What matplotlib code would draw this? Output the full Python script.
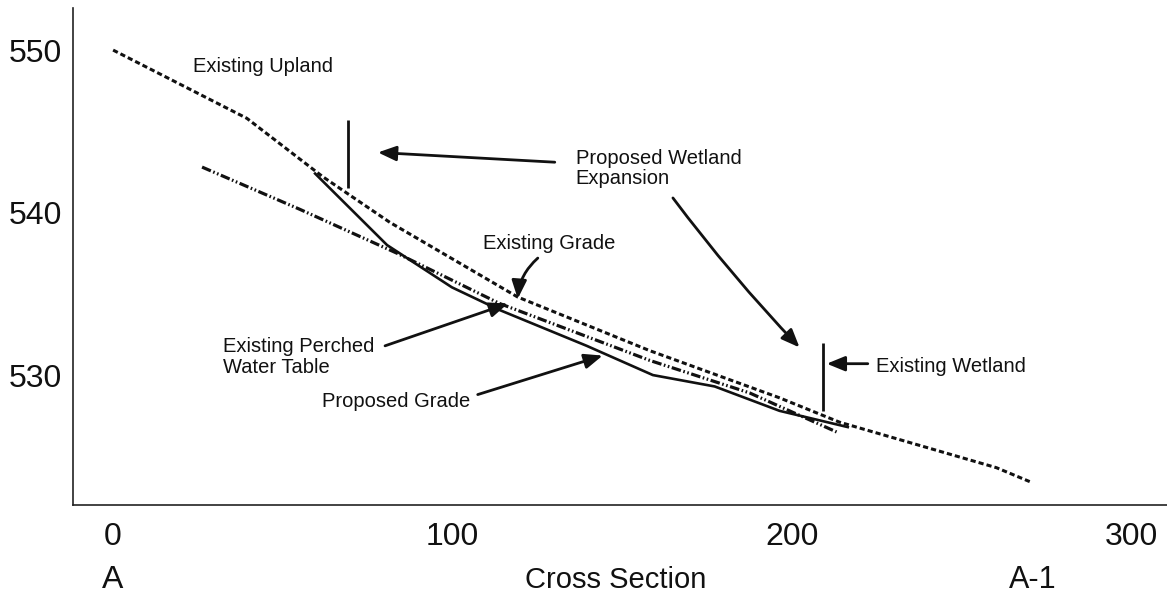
import matplotlib
matplotlib.use("Agg")
import matplotlib.pyplot as plt
from matplotlib.transforms import blended_transform_factory

plt.rcParams['font.family'] = ['Liberation Sans', 'DejaVu Sans']

# ---- data (distance along cross section, elevation) ----
upland_x = [0, 39.4, 61.8, 81.5, 119.2, 158.1, 196.3, 214.0, 260.2, 270.5]
upland_y = [550.0, 545.8, 542.2, 539.4, 534.8, 531.5, 528.6, 527.1, 524.3, 523.4]

proposed_x = [59.5, 80.7, 99.8, 113.9, 139.5, 159.0, 177.2, 196.3, 216.4]
proposed_y = [542.4, 538.0, 535.4, 534.0, 531.8, 530.0, 529.3, 527.8, 526.8]

perched_x = [26.2, 55.0, 83.6, 113.9, 158.1, 187.5, 213.1]
perched_y = [542.8, 540.2, 537.5, 534.4, 530.9, 528.9, 526.5]

expansion_marker_x = 69.2
expansion_marker_y = (541.5, 545.7)
wetland_marker_x = 209.0
wetland_marker_y = (527.8, 532.0)

x_ticks = [0, 100, 200, 300]
y_ticks = [530, 540, 550]

ink = '#111111'

fig = plt.figure(figsize=(11.67, 6.02), dpi=100)
ax = fig.add_axes([0.0626, 0.161, 0.937, 0.826])
ax.set_xlim(-11.8, 310.3)
ax.set_ylim(522.0, 552.6)

ax.plot(upland_x, upland_y, color=ink, lw=2.2, linestyle=(0, (1.7, 1.0)))
ax.plot(proposed_x, proposed_y, color=ink, lw=1.9, linestyle='-')
ax.plot(perched_x, perched_y, color=ink, lw=2.3,
        linestyle=(0, (3.0, 0.8, 0.5, 0.8, 0.5, 0.8)))

ax.vlines(expansion_marker_x, *expansion_marker_y, color=ink, lw=2.0)
ax.vlines(wetland_marker_x, *wetland_marker_y, color=ink, lw=2.0)

for s in ['top', 'right']:
    ax.spines[s].set_visible(False)
for s in ['left', 'bottom']:
    ax.spines[s].set_color('#222222')
    ax.spines[s].set_linewidth(1.2)

ax.set_xticks(x_ticks)
ax.set_xticklabels([str(v) for v in x_ticks])
ax.set_yticks(y_ticks)
ax.set_yticklabels([str(v) for v in y_ticks])
ax.tick_params(axis='x', length=0, pad=12, labelsize=23, colors=ink)
ax.tick_params(axis='y', length=0, pad=8, labelsize=23, colors=ink)

# bottom labels
tr = blended_transform_factory(ax.transData, ax.transAxes)
ax.text(0, -0.151, 'A', transform=tr, ha='center', va='center', fontsize=23, color=ink)
ax.text(148, -0.151, 'Cross Section', transform=tr, ha='center', va='center', fontsize=21, color=ink)
ax.text(271, -0.151, 'A-1', transform=tr, ha='center', va='center', fontsize=22, color=ink)

fs = 14.5
# annotations
ax.text(23.6, 549.0, 'Existing Upland', fontsize=fs, ha='left', va='center', color=ink)
ax.text(136.3, 542.7, 'Proposed Wetland\nExpansion', fontsize=fs, ha='left', va='center',
        linespacing=1.1, color=ink)
ax.text(108.9, 538.1, 'Existing Grade', fontsize=fs, ha='left', va='center', color=ink)
ax.text(32.4, 531.1, 'Existing Perched\nWater Table', fontsize=fs, ha='left', va='center',
        linespacing=1.1, color=ink)
ax.text(61.5, 528.4, 'Proposed Grade', fontsize=fs, ha='left', va='center', color=ink)
ax.text(224.6, 530.5, 'Existing Wetland', fontsize=fs, ha='left', va='center', color=ink)

arrow_kw = dict(arrowstyle='-|>,head_length=1.1,head_width=0.45', color=ink, lw=2.0,
                shrinkA=0, shrinkB=0)

def arrow(tail, tip, rad=0.0):
    ax.annotate('', xy=tip, xytext=tail,
                arrowprops=dict(connectionstyle=f'arc3,rad={rad}', **arrow_kw))

arrow((130.1, 543.1), (78.0, 543.7))
arrow((164.9, 540.9), (202.2, 531.7), rad=0.03)
arrow((222.3, 530.7), (210.2, 530.7))
arrow((125.1, 537.2), (119.2, 534.7), rad=0.2)
arrow((80.1, 531.8), (116.3, 534.4))
arrow((107.4, 528.8), (144.2, 531.2))

fig.savefig('out.png', dpi=100)
